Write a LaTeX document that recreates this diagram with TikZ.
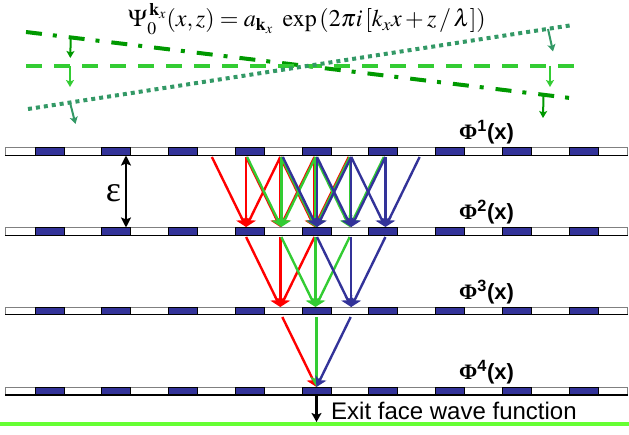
\documentclass[tikz,border=0pt]{standalone}
\usepackage{mathptmx}
\usepackage[no-math]{fontspec}
\setmainfont{Liberation Sans}
\newfontfamily\serifface{Liberation Serif}
\usetikzlibrary{arrows.meta}
\definecolor{cellblue}{HTML}{333399}
\definecolor{rd}{HTML}{FF0000}
\definecolor{gr}{HTML}{33CC33}
\definecolor{bl}{HTML}{333399}
\definecolor{dkgreen}{HTML}{009900}
\definecolor{ltgreen}{HTML}{33CC33}
\definecolor{seagreen}{HTML}{339966}
\definecolor{exitgreen}{HTML}{66FF33}
\begin{document}
\begin{tikzpicture}[x=1pt,y=-1pt,
  slab/.style={draw=gray,fill=white,line width=0.9pt,minimum width=622pt,minimum height=7.5pt,inner sep=0pt},
  cell/.style={draw=black,fill=cellblue,line width=0.8pt,minimum width=29pt,minimum height=7.5pt,inner sep=0pt},
  ray/.style={line width=2.4pt,-{Stealth[length=10pt,width=12pt,inset=2.5pt]}},
  smallarrow/.style={line width=2pt,-{Stealth[length=7pt,width=8pt,inset=1.5pt]}},
  wave/.style={line width=4pt},
  philabel/.style={anchor=base west,font=\bfseries\fontsize{22}{26}\selectfont,inner sep=0pt}
]
\useasboundingbox (0,0) rectangle (629,435);

% formula
\node[anchor=base,inner sep=0pt] (formula) at (307,27)
  {\fontsize{24}{29}\selectfont $\Psi_{0}^{\,\mathbf{k}_x}\!\left(x, z\right)= a_{\mathbf{k}_x}\ \exp\left(2\pi i\left[k_x x + z\,/\,\lambda\right]\right)$};

% wave fronts
\coordinate (A1) at (26,32);   \coordinate (A2) at (570,98);
\coordinate (B1) at (26,65.7); \coordinate (B2) at (575,65.7);
\coordinate (C1) at (28,109);  \coordinate (C2) at (573,25);
\draw[wave,dkgreen,dash pattern=on 16pt off 11pt on 4pt off 12pt] (A1) -- (A2);
\draw[wave,ltgreen,dash pattern=on 16pt off 12pt] (B1) -- (B2);
\draw[wave,seagreen,dash pattern=on 4pt off 4pt] (C1) -- (C2);

\coordinate (a1s) at (70.7,37.5);  \coordinate (a1e) at (70.3,58);
\coordinate (a2s) at (543.5,95);   \coordinate (a2e) at (543,118);
\coordinate (b1s) at (70,66);      \coordinate (b1e) at (70,87);
\coordinate (b2s) at (550,66);     \coordinate (b2e) at (550,87);
\coordinate (c1s) at (70,102.5);   \coordinate (c1e) at (75.5,124);
\coordinate (c2s) at (548,29);     \coordinate (c2e) at (553,51.5);
\draw[smallarrow,dkgreen] (a1s) -- (a1e);
\draw[smallarrow,dkgreen] (a2s) -- (a2e);
\draw[smallarrow,ltgreen] (b1s) -- (b1e);
\draw[smallarrow,ltgreen] (b2s) -- (b2e);
\draw[smallarrow,seagreen] (c1s) -- (c1e);
\draw[smallarrow,seagreen] (c2s) -- (c2e);

% slabs
\foreach \y [count=\n] in {147.5,227.5,307,387}{
  \node[slab] (slab\n) at (316.5,\y+3.75) {};
  \foreach \k in {0,...,8}{
    \node[cell] (cell\n-\k) at (49.5+66.75*\k,\y+3.75) {};
  }
  \draw[black,line width=1.1pt] (slab\n.south west) -- (slab\n.south east);
}

% labels
\node[philabel] (phi1) at (459,139.5) {{\serifface Φ}\textsuperscript{1}(x)};
\node[philabel] (phi2) at (459,219.5) {{\serifface Φ}\textsuperscript{2}(x)};
\node[philabel] (phi3) at (459,299.5) {{\serifface Φ}\textsuperscript{3}(x)};
\node[philabel] (phi4) at (459,379.5) {{\serifface Φ}\textsuperscript{4}(x)};

% epsilon
\coordinate (epsT) at (126,155.5);
\coordinate (epsB) at (126,227.5);
\draw[line width=2.6pt,{Stealth[length=10pt,width=10pt,inset=2pt]}-{Stealth[length=10pt,width=10pt,inset=2pt]}] (epsT) -- (epsB);
\node[inner sep=0pt] (eps) at (113.5,193) {\serifface\fontsize{36}{40}\selectfont ε};

% ray coordinates
\foreach \i in {0,...,6}{
  \pgfmathsetmacro\xx{316.5+34.2*(\i-3)}
  \coordinate (s1-\i) at (\xx,157);
  \coordinate (e1-\i) at (\xx,227);
  \coordinate (s2-\i) at (\xx,237);
  \coordinate (e2-\i) at (\xx,307);
  \coordinate (s3-\i) at (\xx,317);
  \coordinate (e3-\i) at (\xx,387);
}
% layer 1 -> 2
\foreach \c/\o/\a in {rd/-2/1,gr/-1/2,bl/0.5/3}{
  \foreach \dt in {0,1,2}{
    \foreach \dj in {-1,0,1}{
      \pgfmathtruncatemacro\t{\a+\dt}
      \pgfmathtruncatemacro\j{\t+\dj}
      \draw[ray,\c] ([xshift=\o pt]s1-\j) -- ([xshift=\o pt]e1-\t);
    }
  }
}
% layer 2 -> 3
\foreach \c/\o/\t in {rd/-2/2,gr/-1/3,bl/0.5/4}{
  \foreach \dj in {-1,0,1}{
    \pgfmathtruncatemacro\j{\t+\dj}
    \draw[ray,\c] ([xshift=\o pt]s2-\j) -- ([xshift=\o pt]e2-\t);
  }
}
% layer 3 -> 4
\draw[ray,rd] (s3-2) -- (e3-3);
\draw[ray,gr] (s3-3) -- (e3-3);
\draw[ray,bl] (s3-4) -- (e3-3);

% exit
\coordinate (exS) at (316.5,395);
\coordinate (exE) at (316.5,422);
\coordinate (gl1) at (0,424);
\coordinate (gl2) at (629,424);
\draw[exitgreen,line width=4pt] (gl1) -- (gl2);
\draw[line width=2.2pt,-{Stealth[length=9pt,width=10pt,inset=2pt]}] (exS) -- (exE);
\node[anchor=base west,inner sep=0pt,font=\fontsize{24}{28}\selectfont] (exit) at (331,419) {Exit face wave function};
\end{tikzpicture}
\end{document}
